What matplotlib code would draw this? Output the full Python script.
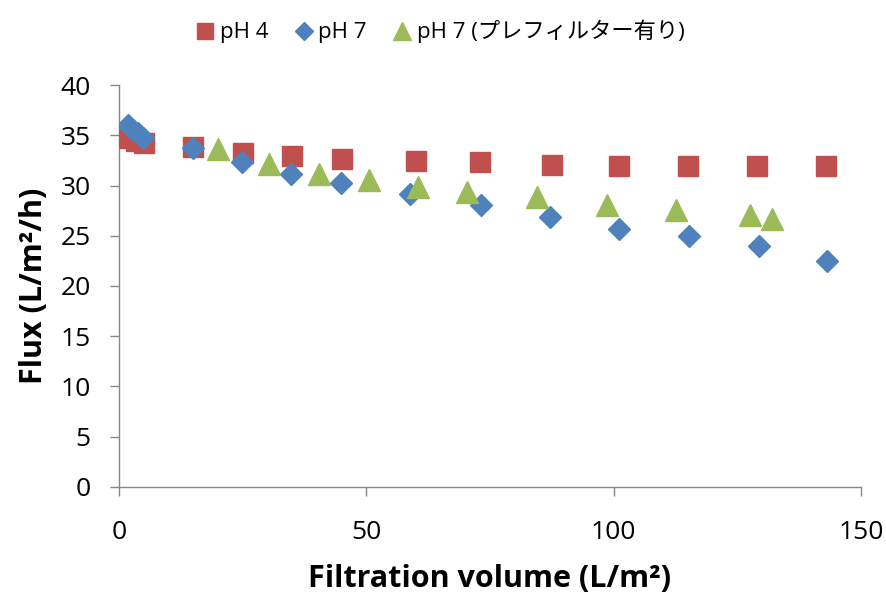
import matplotlib
matplotlib.use("Agg")
import matplotlib.pyplot as plt

plt.rcParams['font.family'] = ['Open Sans', 'Noto Sans CJK JP', 'DejaVu Sans']

# Flux vs. filtration volume for three runs
ph4_volume = [0.5, 2, 3.5, 5, 15, 25, 35, 45, 60, 73, 87.5, 101, 115, 129, 143]
ph4_flux = [35.0, 34.7, 34.4, 34.2, 33.8, 33.2, 32.9, 32.6, 32.4, 32.3, 32.0, 31.9, 31.9, 31.9, 31.9]

ph7_volume = [1.9, 2.9, 3.9, 4.8, 14.9, 24.8, 34.8, 44.9, 58.9, 73.2, 87.2, 101.1, 115.2, 129.3, 143.2]
ph7_flux = [36.0, 35.5, 35.2, 34.7, 33.7, 32.3, 31.1, 30.2, 29.2, 28.1, 26.9, 25.7, 25.0, 24.0, 22.5]

pre_volume = [20.1, 30.4, 40.5, 50.5, 60.5, 70.4, 84.5, 98.7, 112.7, 127.5, 132.1]
pre_flux = [33.6, 32.1, 31.1, 30.5, 29.9, 29.4, 28.9, 28.1, 27.6, 27.1, 26.7]

labels = ['pH 4', 'pH 7', 'pH 7 (プレフィルター有り)']
colors = ['#C0504D', '#4F81BD', '#9BBB59']

fig = plt.figure(figsize=(8.86, 5.97), dpi=100)
ax = fig.add_axes([0.1343, 0.1843, 0.8375, 0.6733])

ax.plot(ph4_volume, ph4_flux, ls='none', marker='s', ms=14.5, color=colors[0],
        mec=colors[0], label=labels[0], zorder=3)
ax.plot(ph7_volume, ph7_flux, ls='none', marker='D', ms=11.5, color=colors[1],
        mec=colors[1], label=labels[1], zorder=4)
ax.plot(pre_volume, pre_flux, ls='none', marker='^', ms=16.5, color=colors[2],
        mec=colors[2], label=labels[2], zorder=5)

ax.set_xlim(0, 150)
ax.set_ylim(0, 40)
ax.set_xticks([0, 50, 100, 150])
ax.set_yticks(range(0, 41, 5))

for side in ('top', 'right'):
    ax.spines[side].set_visible(False)
for side in ('left', 'bottom'):
    ax.spines[side].set_color('#888888')
    ax.spines[side].set_linewidth(1.0)

ax.tick_params(axis='both', direction='out', length=6.5, width=1.0, color='#888888',
               labelsize=19, labelcolor='black')
ax.tick_params(axis='x', pad=17)
ax.tick_params(axis='y', pad=14)

ax.set_xlabel('Filtration volume (L/m²)', fontsize=22, fontweight='bold', labelpad=14)
ax.set_ylabel('Flux (L/m²/h)', fontsize=22, fontweight='bold', labelpad=8)

leg = fig.legend(loc='center', bbox_to_anchor=(0.497, 0.947), ncol=3, frameon=False,
                 fontsize=16, handlelength=0.8, handletextpad=0.25, columnspacing=1.2,
                 markerscale=0.8)

fig.savefig('out.png', dpi=100)
